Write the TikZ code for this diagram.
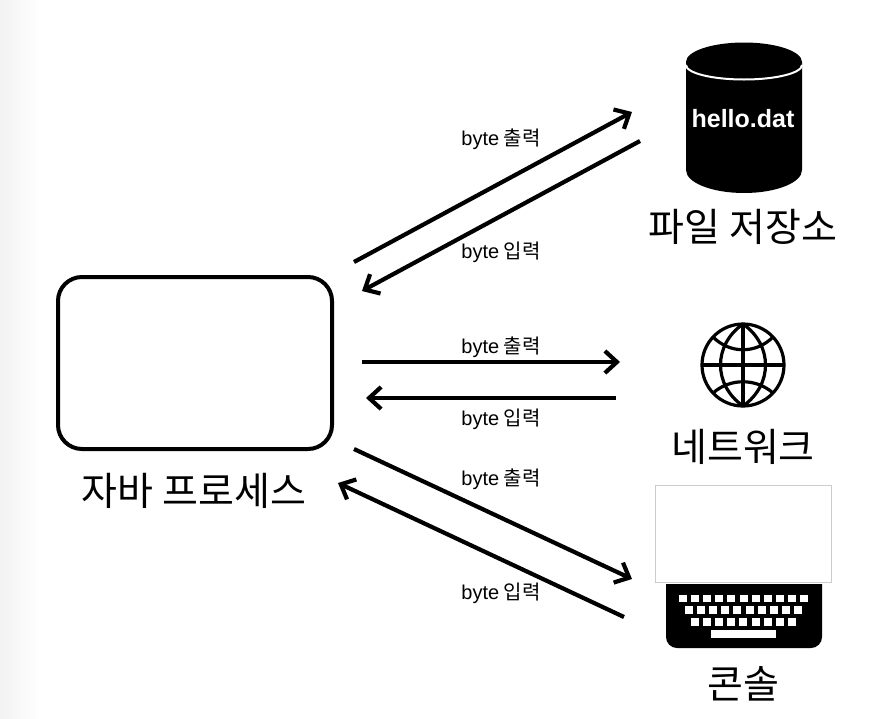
\documentclass[tikz,border=0pt]{standalone}
\usepackage{fontspec}
\setmainfont{Noto Sans CJK KR}
\newfontfamily\latinf{Liberation Sans}
\usetikzlibrary{arrows.meta}
\tikzset{
  flow/.style={line width=4.2pt,-{Straight Barb[length=12pt,width=22pt,line width=4.2pt]}},
  small/.style={font=\fontsize{20}{24}\selectfont,inner sep=0pt,anchor=center},
  big/.style={font=\fontsize{39}{44}\selectfont,inner sep=0pt,anchor=center},
  gl/.style={line width=3.2pt,black},
}
\newcommand{\bl}[1]{{\latinf byte} #1}
\begin{document}
\begin{tikzpicture}[x=1pt,y=-1pt]
\useasboundingbox (0,0) rectangle (884,718);
\fill[white] (0,0) rectangle (884,718);
\shade[left color=black!5,right color=white] (0,0) rectangle (40,718);
% process
\node[draw,line width=4pt,rounded corners=24pt,minimum width=274pt,minimum height=172pt,inner sep=0pt] (proc) at (195,363) {};
\node[big] (proclab) at (194,491) {자바 프로세스};
% cylinder
\fill (686,62) -- (686,170) arc[start angle=180,end angle=0,x radius=58,y radius=23] -- (802,62) arc[start angle=0,end angle=-180,x radius=58,y radius=19.5] -- cycle;
\draw[white,line width=2pt] (686,65) arc[start angle=180,end angle=0,x radius=58,y radius=14.5];
\node[white,font=\latinf\bfseries\fontsize{25}{29}\selectfont,inner sep=0pt] (file) at (743,119) {hello.dat};
\node[big] (filelab) at (743,227) {파일 저장소};
% globe
\coordinate (gc) at (743,365);
\draw[gl] (gc) circle[radius=41];
\draw[gl] (702,365) -- (784,365);
\draw[gl] (743,324) -- (743,406);
\draw[gl] (743,324) .. controls (713,345) and (713,385) .. (743,406);
\draw[gl] (743,324) .. controls (773,345) and (773,385) .. (743,406);
\draw[gl] (713,337) .. controls (730,354) and (756,354) .. (773,337);
\draw[gl] (713,393) .. controls (730,378) and (756,378) .. (773,393);
\node[big] (netlab) at (743,447) {네트워크};
% keyboard
\fill (666,584) -- (822,584) -- (822,637) arc[start angle=0,end angle=90,radius=11] -- (677,648) arc[start angle=90,end angle=180,radius=11] -- cycle;
\foreach \i in {0,...,10} \fill[white] ({679+\i*12.12},594.5) rectangle +(8,7.5);
\foreach \i in {0,...,9} \fill[white] ({685+\i*12.12},606) rectangle +(8,7.5);
\foreach \i in {0,...,8} \fill[white] ({691+\i*12.12},618) rectangle +(8,7.5);
\fill[white] (711,630) rectangle (776,638);
\node[draw=black!20,fill=white,line width=.8pt,minimum width=176pt,minimum height=97pt,inner sep=0pt] (screen) at (743.5,533.5) {};
\node[big] (conlab) at (743,684) {콘솔};
% end points
\coordinate (a1) at (354,262); \coordinate (b1) at (632,112);
\coordinate (a2) at (640,141); \coordinate (b2) at (362,291);
\coordinate (a3) at (362,362); \coordinate (b3) at (620,362);
\coordinate (a4) at (616,398); \coordinate (b4) at (366,398);
\coordinate (a5) at (354,449); \coordinate (b5) at (632,579);
\coordinate (a6) at (624,617); \coordinate (b6) at (338,483);
\draw[flow] (a1) -- (b1);
\draw[flow] (a2) -- (b2);
\draw[flow] (a3) -- (b3);
\draw[flow] (a4) -- (b4);
\draw[flow] (a5) -- (b5);
\draw[flow] (a6) -- (b6);
% labels
\node[small] (l1) at (501,139) {\bl{출력}};
\node[small] (l2) at (501,252) {\bl{입력}};
\node[small] (l3) at (501,347) {\bl{출력}};
\node[small] (l4) at (501,419) {\bl{입력}};
\node[small] (l5) at (501,479) {\bl{출력}};
\node[small] (l6) at (501,593) {\bl{입력}};
\end{tikzpicture}
\end{document}
